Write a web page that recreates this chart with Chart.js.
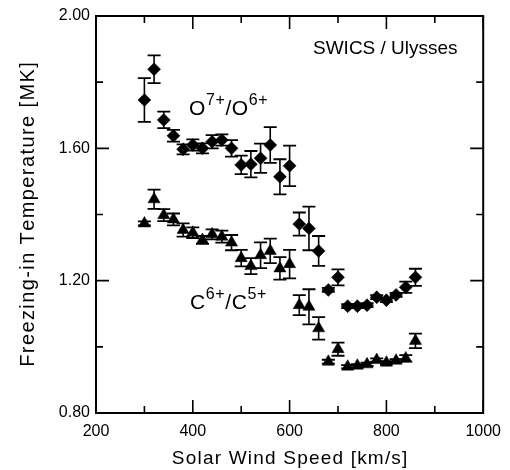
<!DOCTYPE html>
<html>
<head>
<meta charset="utf-8">
<script src="https://cdn.jsdelivr.net/npm/chart.js@4"></script>
<style>
html,body{margin:0;padding:0;background:#fff;}
canvas{display:block;}
</style>
</head>
<body>
<canvas id="c" width="510" height="470"></canvas>
<script>
const speed = [300,320,340,360,380,400,420,440,460,480,500,520,540,560,580,600,620,640,660,680,700,720,740,760,780,800,820,840,860];
const oTemp = [1.746,1.839,1.686,1.638,1.597,1.610,1.600,1.620,1.625,1.600,1.550,1.552,1.570,1.610,1.514,1.547,1.371,1.358,1.290,1.172,1.210,1.123,1.123,1.126,1.150,1.141,1.157,1.180,1.210];
const oErr  = [0.066,0.042,0.025,0.018,0.015,0.017,0.015,0.020,0.017,0.025,0.028,0.040,0.044,0.054,0.053,0.061,0.035,0.066,0.045,0.006,0.024,0.006,0.006,0.006,0.006,0.006,0.006,0.017,0.026];
const cTemp = [1.373,1.446,1.398,1.385,1.353,1.345,1.323,1.340,1.333,1.315,1.268,1.244,1.277,1.290,1.237,1.250,1.126,1.121,1.056,0.955,0.993,0.940,0.943,0.947,0.960,0.952,0.958,0.965,1.018];
const cErr  = [0.006,0.029,0.018,0.018,0.020,0.016,0.012,0.015,0.018,0.023,0.025,0.024,0.039,0.037,0.034,0.043,0.030,0.053,0.034,0.006,0.020,0.005,0.005,0.005,0.005,0.005,0.005,0.010,0.022];
const xMajor = [200,400,600,800,1000];
const xMinor = [300,500,700,900];
const yMajor = [0.8,1.2,1.6,2.0];
const yMinor = [1.0,1.4,1.8];
const xTitle = 'Solar Wind Speed [km/s]';
const yTitle = 'Freezing-in Temperature [MK]';
const topLabel = 'SWICS / Ulysses';
const oLabel = ['O','7+','/O','6+'];
const cLabel = ['C','6+','/C','5+'];

const FONT = '"Liberation Sans", Arial, sans-serif';

const errorBars = {
  id: 'errorBars',
  beforeDatasetsDraw(chart) {
    const ctx = chart.ctx, xs = chart.scales.x, ys = chart.scales.y;
    const sets = [[oTemp,oErr],[cTemp,cErr]];
    ctx.save();
    ctx.strokeStyle = '#000';
    sets.forEach(([vals, errs]) => {
      vals.forEach((v, i) => {
        const px = xs.getPixelForValue(speed[i]);
        const y1 = ys.getPixelForValue(v + errs[i]);
        const y2 = ys.getPixelForValue(v - errs[i]);
        ctx.lineWidth = 1.6;
        ctx.beginPath(); ctx.moveTo(px, y1); ctx.lineTo(px, y2); ctx.stroke();
        ctx.lineWidth = 1.8;
        ctx.beginPath();
        ctx.moveTo(px - 6.5, y1); ctx.lineTo(px + 6.5, y1);
        ctx.moveTo(px - 6.5, y2); ctx.lineTo(px + 6.5, y2);
        ctx.stroke();
      });
    });
    ctx.restore();
  }
};

function drawSpaced(ctx, text, x, y, spacing) {
  // draws text with letter spacing, left aligned at x
  let cx = x;
  for (const ch of text) {
    ctx.fillText(ch, cx, y);
    cx += ctx.measureText(ch).width + spacing;
  }
  return cx - spacing;
}
function spacedWidth(ctx, text, spacing) {
  let w = 0;
  for (const ch of text) w += ctx.measureText(ch).width + spacing;
  return w - spacing;
}

function drawIonLabel(ctx, parts, x, baseline) {
  let cx = x;
  parts.forEach((p, i) => {
    const sup = i % 2 === 1;
    ctx.font = (sup ? '16px ' : '21px ') + FONT;
    const y = sup ? baseline - 10.5 : baseline;
    cx = drawSpaced(ctx, p, cx, y, 0.6) + 0.6;
  });
}

const frame = {
  id: 'frame',
  afterDraw(chart) {
    const ctx = chart.ctx, a = chart.chartArea, xs = chart.scales.x, ys = chart.scales.y;
    ctx.save();
    ctx.strokeStyle = '#000';
    ctx.lineWidth = 2;
    ctx.strokeRect(a.left, a.top, a.right - a.left, a.bottom - a.top);
    ctx.lineWidth = 1.6;
    ctx.beginPath();
    const tickX = (vals, len) => vals.forEach(v => {
      const px = xs.getPixelForValue(v);
      ctx.moveTo(px, a.bottom); ctx.lineTo(px, a.bottom - len);
      ctx.moveTo(px, a.top); ctx.lineTo(px, a.top + len);
    });
    const tickY = (vals, len) => vals.forEach(v => {
      const py = ys.getPixelForValue(v);
      ctx.moveTo(a.left, py); ctx.lineTo(a.left + len, py);
      ctx.moveTo(a.right, py); ctx.lineTo(a.right - len, py);
    });
    tickX(xMajor, 13); tickX(xMinor, 7);
    tickY(yMajor, 13); tickY(yMinor, 7);
    ctx.stroke();

    ctx.fillStyle = '#000';
    ctx.textBaseline = 'alphabetic';
    ctx.textAlign = 'left';
    // x title
    ctx.font = '19px ' + FONT;
    let sp = 1.2;
    let w = spacedWidth(ctx, xTitle, sp);
    drawSpaced(ctx, xTitle, (a.left + a.right) / 2 - w / 2, 463.5, sp);
    // y title
    ctx.save();
    ctx.font = '20px ' + FONT;
    sp = 1.4;
    w = spacedWidth(ctx, yTitle, sp);
    ctx.translate(34, (a.top + a.bottom) / 2);
    ctx.rotate(-Math.PI / 2);
    drawSpaced(ctx, yTitle, -w / 2, 0, sp);
    ctx.restore();
    // annotation
    ctx.font = '19px ' + FONT;
    ctx.fillText(topLabel, 313, 54);
    drawIonLabel(ctx, oLabel, 189, 115);
    drawIonLabel(ctx, cLabel, 190, 309);
    ctx.restore();
  }
};

new Chart(document.getElementById('c'), {
  type: 'scatter',
  data: {
    datasets: [
      {
        label: 'O7+/O6+',
        data: speed.map((s, i) => ({x: s, y: oTemp[i]})),
        pointStyle: 'rectRot',
        pointRadius: 6.5,
        backgroundColor: '#000',
        borderColor: '#000',
        borderWidth: 0.5
      },
      {
        label: 'C6+/C5+',
        data: speed.map((s, i) => ({x: s, y: cTemp[i]})),
        pointStyle: 'triangle',
        pointRadius: 7,
        backgroundColor: '#000',
        borderColor: '#000',
        borderWidth: 0.5
      }
    ]
  },
  options: {
    responsive: false,
    animation: false,
    layout: { padding: { top: 16, right: 22, left: 0, bottom: 0 } },
    plugins: { legend: { display: false }, tooltip: { enabled: false } },
    scales: {
      x: {
        type: 'linear',
        min: 200, max: 1000,
        afterBuildTicks: s => { s.ticks = xMajor.map(v => ({value: v})); },
        afterFit: s => { s.height = 57; },
        grid: { display: false, drawTicks: false },
        border: { display: false },
        ticks: { padding: 9, color: '#000', font: { family: FONT, size: 16 }, callback: v => String(v), maxRotation: 0 }
      },
      y: {
        min: 0.8, max: 2.0,
        afterBuildTicks: s => { s.ticks = yMajor.map(v => ({value: v})); },
        afterFit: s => { s.width = 96; },
        grid: { display: false, drawTicks: false },
        border: { display: false },
        ticks: { padding: 6, color: '#000', font: { family: FONT, size: 16 }, callback: v => Number(v).toFixed(2) }
      }
    }
  },
  plugins: [errorBars, frame]
});
</script>
</body>
</html>
